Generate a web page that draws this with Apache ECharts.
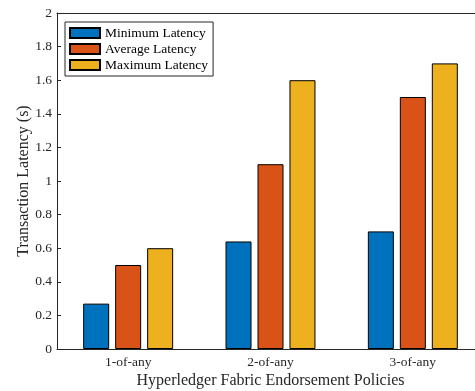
<!DOCTYPE html>
<html>
<head>
<meta charset="utf-8">
<script src="https://cdn.jsdelivr.net/npm/echarts@6/dist/echarts.min.js"></script>
<style>html,body{margin:0;padding:0;background:#fff}#c{width:475px;height:391px}</style>
</head>
<body>
<div id="c"></div>
<script>
var categories = ['1-of-any', '2-of-any', '3-of-any'];
var minLatency = [0.27, 0.64, 0.70];
var avgLatency = [0.50, 1.10, 1.50];
var maxLatency = [0.60, 1.60, 1.70];
var seriesNames = ['Minimum Latency', 'Average Latency', 'Maximum Latency'];
var colors = ['#0072BD', '#D95319', '#EDB120'];

var font = '"Liberation Serif", "DejaVu Serif", serif';
var ink = '#262626';
var chart = echarts.init(document.getElementById('c'));
function bar(name, data, color) {
  return {
    name: name, type: 'bar', data: data, barWidth: 26, barGap: '23%',
    itemStyle: { color: color, borderColor: '#000', borderWidth: 1 }
  };
}
chart.setOption({
  animation: false,
  backgroundColor: '#fff',
  grid: { left: 57, top: 13, bottom: 42, right: -9, containLabel: false, outerBoundsMode: 'none' },
  legend: {
    orient: 'vertical', left: 65, top: 22,
    padding: [4, 5, 4, 4], itemGap: 2,
    itemWidth: 30, itemHeight: 10, icon: 'rect',
    backgroundColor: '#fff', borderColor: ink, borderWidth: 1,
    textStyle: { fontFamily: font, fontSize: 13.5, color: '#000' },
    data: seriesNames
  },
  xAxis: [{
    type: 'category', data: categories, position: 'bottom',
    axisLine: { lineStyle: { color: ink, width: 1 } },
    axisTick: { inside: true, alignWithLabel: true, length: 4, lineStyle: { color: ink } },
    axisLabel: { fontFamily: font, fontSize: 13.5, color: ink, margin: 6 },
    name: 'Hyperledger Fabric Endorsement Policies', nameLocation: 'middle', nameGap: 24,
    nameMoveOverlap: false,
    nameTextStyle: { fontFamily: font, fontSize: 16, color: ink }
  }, {
    type: 'category', data: categories, position: 'top',
    axisLine: { lineStyle: { color: ink, width: 1 } },
    axisTick: { inside: true, alignWithLabel: true, length: 4, lineStyle: { color: ink } },
    axisLabel: { show: false }
  }],
  yAxis: {
    type: 'value', min: 0, max: 2, interval: 0.2,
    axisLine: { show: true, lineStyle: { color: ink, width: 1 } },
    axisTick: { show: true, inside: true, length: 4, lineStyle: { color: ink } },
    axisLabel: { fontFamily: font, fontSize: 13.5, color: ink, margin: 5 },
    splitLine: { show: false },
    name: 'Transaction Latency (s)', nameLocation: 'middle', nameGap: 25,
    nameMoveOverlap: false,
    nameTextStyle: { fontFamily: font, fontSize: 16, color: ink }
  },
  series: [
    bar(seriesNames[0], minLatency, colors[0]),
    bar(seriesNames[1], avgLatency, colors[1]),
    bar(seriesNames[2], maxLatency, colors[2])
  ]
});
</script>
</body>
</html>
